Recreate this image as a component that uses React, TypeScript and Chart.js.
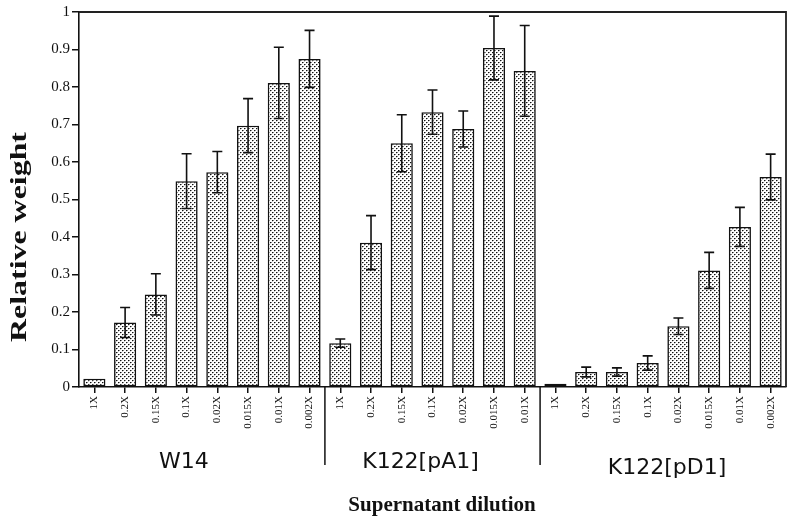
import React, { useEffect, useRef } from "react";
import { Chart, registerables } from "chart.js";

Chart.register(...registerables);

const categories = [
  "1X", "0.2X", "0.15X", "0.1X", "0.02X", "0.015X", "0.01X", "0.002X",
  "1X", "0.2X", "0.15X", "0.1X", "0.02X", "0.015X", "0.01X",
  "1X", "0.2X", "0.15X", "0.1X", "0.02X", "0.015X", "0.01X", "0.002X",
];
const groupNames = ["W14", "K122[pA1]", "K122[pD1]"];
const groupSizes = [8, 7, 8];
const values = [
  0.022, 0.172, 0.247, 0.549, 0.573, 0.697, 0.811, 0.875,
  0.117, 0.385, 0.650, 0.733, 0.688, 0.904, 0.843,
  0.009, 0.040, 0.040, 0.064, 0.162, 0.311, 0.427, 0.560,
];
const errors = [
  0, 0.040, 0.055, 0.073, 0.055, 0.072, 0.095, 0.076,
  0.011, 0.072, 0.076, 0.059, 0.048, 0.085, 0.121,
  0, 0.013, 0.011, 0.019, 0.022, 0.048, 0.052, 0.061,
];
const yTickValues = [0, 0.1, 0.2, 0.3, 0.4, 0.5, 0.6, 0.7, 0.8, 0.9, 1];
const xTitle = "Supernatant dilution";
const yTitle = "Relative weight";

const SERIF = "'Liberation Serif', 'Times New Roman', serif";
const SANS = "'DejaVu Sans', sans-serif";
const INK = "#111";

function makePattern(): CanvasPattern | string {
  const c = document.createElement("canvas");
  c.width = 4;
  c.height = 4;
  const g = c.getContext("2d");
  if (!g) return "#ccc";
  g.fillStyle = "#fff";
  g.fillRect(0, 0, 4, 4);
  g.fillStyle = "#111";
  g.fillRect(0, 0, 1, 1);
  g.fillRect(2, 2, 1, 1);
  g.fillStyle = "#8a8a8a";
  g.fillRect(1, 0, 1, 1);
  g.fillRect(3, 2, 1, 1);
  g.fillStyle = "#d0d0d0";
  g.fillRect(0, 1, 1, 1);
  g.fillRect(2, 3, 1, 1);
  return g.createPattern(c, "repeat") || "#ccc";
}

const overlay = {
  id: "overlay",
  afterDatasetsDraw(chart: any) {
    const { ctx, chartArea, scales } = chart;
    const x = scales.x;
    const y = scales.y;
    ctx.save();
    // error bars
    ctx.strokeStyle = INK;
    ctx.lineWidth = 1.6;
    values.forEach((v, i) => {
      const e = errors[i];
      if (!e) return;
      const px = x.getPixelForValue(i);
      const top = y.getPixelForValue(v + e);
      const bot = y.getPixelForValue(v - e);
      ctx.beginPath();
      ctx.moveTo(px, top);
      ctx.lineTo(px, bot);
      ctx.moveTo(px - 5, top);
      ctx.lineTo(px + 5, top);
      ctx.moveTo(px - 5, bot);
      ctx.lineTo(px + 5, bot);
      ctx.stroke();
    });
    // frame top / right
    ctx.lineWidth = 1.8;
    ctx.strokeStyle = "#222";
    ctx.beginPath();
    ctx.moveTo(chartArea.left, chartArea.top);
    ctx.lineTo(chartArea.right, chartArea.top);
    ctx.lineTo(chartArea.right, chartArea.bottom);
    ctx.stroke();
    ctx.restore();
  },
  afterDraw(chart: any) {
    const { ctx, chartArea, scales } = chart;
    const x = scales.x;
    ctx.save();
    // group separators and labels
    const dx = [-18, -12, 4];
    const dy = [462, 462, 468];
    let start = 0;
    groupSizes.forEach((n, gi) => {
      const end = start + n - 1;
      const cx = (x.getPixelForValue(start) + x.getPixelForValue(end)) / 2;
      ctx.fillStyle = INK;
      ctx.font = `22px ${SANS}`;
      ctx.textAlign = "center";
      ctx.textBaseline = "middle";
      ctx.fillText(groupNames[gi], cx + dx[gi], dy[gi]);
      if (gi < groupSizes.length - 1) {
        const sx = (x.getPixelForValue(end) + x.getPixelForValue(end + 1)) / 2;
        ctx.strokeStyle = INK;
        ctx.lineWidth = 1.5;
        ctx.beginPath();
        ctx.moveTo(sx, chartArea.bottom);
        ctx.lineTo(sx, 465);
        ctx.stroke();
      }
      start += n;
    });
    // axis titles
    ctx.fillStyle = INK;
    ctx.font = `bold 21px ${SERIF}`;
    ctx.textAlign = "center";
    ctx.textBaseline = "middle";
    ctx.fillText(xTitle, 442, 506);
    ctx.translate(20, 237);
    ctx.rotate(-Math.PI / 2);
    ctx.font = `bold 24px ${SERIF}`;
    const w = ctx.measureText(yTitle).width;
    ctx.scale(210 / w, 1);
    ctx.fillText(yTitle, 0, 0);
    ctx.restore();
  },
};

export default function App() {
  const ref = useRef<HTMLCanvasElement | null>(null);
  useEffect(() => {
    if (!ref.current) return;
    const pattern = makePattern();
    const chart = new Chart(ref.current, {
      type: "bar",
      data: {
        labels: categories,
        datasets: [
          {
            data: values,
            backgroundColor: pattern as any,
            borderColor: INK,
            borderWidth: 1.6,
            borderSkipped: false,
            barPercentage: 0.72,
            categoryPercentage: 1,
          },
        ],
      },
      options: {
        animation: false,
        responsive: false,
        maintainAspectRatio: false,
        layout: { padding: { left: 0, top: 12, right: 14, bottom: 0 } },
        plugins: { legend: { display: false }, tooltip: { enabled: false } },
        scales: {
          x: {
            grid: {
              display: true,
              drawOnChartArea: false,
              offset: false,
              tickLength: 6,
              color: INK,
              lineWidth: 1.5,
            },
            border: { color: INK, width: 1.6 },
            ticks: {
              autoSkip: false,
              maxRotation: 90,
              minRotation: 90,
              padding: 3,
              color: INK,
              font: { family: SERIF, size: 11 },
            },
            afterFit(s: any) {
              s.height = 139;
            },
          },
          y: {
            min: 0,
            max: 1,
            afterBuildTicks(s: any) {
              s.ticks = yTickValues.map((v) => ({ value: v }));
            },
            ticks: {
              padding: 2,
              color: INK,
              font: { family: SERIF, size: 15 },
              callback: (v: any) => String(Math.round(Number(v) * 10) / 10),
            },
            grid: {
              drawOnChartArea: false,
              tickLength: 7,
              color: INK,
              lineWidth: 1.5,
            },
            border: { color: INK, width: 1.6 },
            afterFit(s: any) {
              s.width = 79;
            },
          },
        },
      },
      plugins: [overlay],
    });
    return () => chart.destroy();
  }, []);
  return (
    <div style={{ position: "fixed", left: 0, top: 0, width: 800, height: 526, background: "#fff" }}>
      <canvas ref={ref} width={800} height={526} />
    </div>
  );
}
